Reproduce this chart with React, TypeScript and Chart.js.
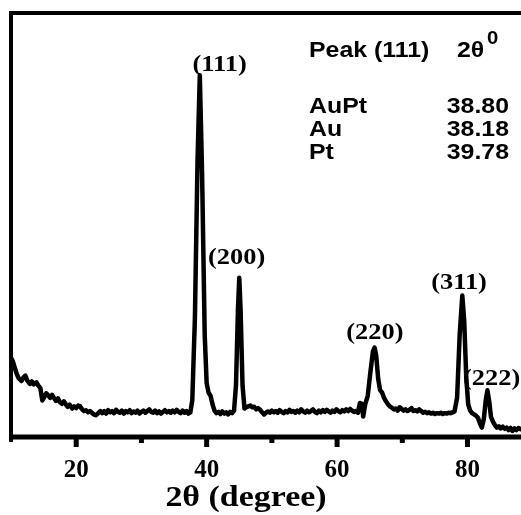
import React, { useEffect, useRef } from 'react';
import { Chart, registerables } from 'chart.js';

Chart.register(...registerables);

// ---- data ----
const twoTheta: number[] = [
  10.0, 10.3, 10.6, 10.9, 11.2, 11.6, 11.9, 12.2, 12.5, 12.9, 13.2, 13.5, 13.9, 14.2, 14.5, 14.8, 15.1, 15.4, 15.7, 16.0,
  16.3, 16.6, 16.9, 17.2, 17.5, 17.8, 18.1, 18.4, 18.7, 19.0, 19.4, 19.7, 20.0, 20.3, 20.6, 20.9, 21.2, 21.5, 21.8, 22.1,
  22.4, 22.7, 23.0, 23.3, 23.7, 24.0, 24.3, 24.6, 24.9, 25.2, 25.5, 25.8, 26.1, 26.4, 26.7, 27.0, 27.3, 27.6, 27.9, 28.2,
  28.5, 28.8, 29.1, 29.4, 29.7, 30.0, 30.3, 30.6, 30.9, 31.2, 31.5, 31.8, 32.1, 32.4, 32.7, 33.0, 33.3, 33.6, 33.9, 34.2,
  34.5, 34.8, 35.1, 35.4, 35.7, 36.0, 36.3, 36.6, 36.9, 37.2, 37.5, 37.8, 38.2, 38.6, 38.95, 39.3, 39.7, 40.0, 40.3, 40.6,
  40.9, 41.2, 41.5, 41.8, 42.1, 42.4, 42.7, 43.0, 43.3, 43.6, 43.9, 44.2, 44.5, 44.8, 45.0, 45.2, 45.5, 45.8, 46.1, 46.4,
  46.7, 47.0, 47.3, 47.6, 47.9, 48.2, 48.5, 48.8, 49.1, 49.4, 49.7, 50.0, 50.3, 50.6, 50.9, 51.2, 51.5, 51.8, 52.1, 52.4,
  52.7, 53.0, 53.3, 53.6, 53.9, 54.2, 54.5, 54.8, 55.1, 55.4, 55.7, 56.0, 56.3, 56.6, 56.9, 57.2, 57.5, 57.8, 58.1, 58.4,
  58.7, 59.0, 59.3, 59.6, 59.9, 60.2, 60.5, 60.8, 61.1, 61.4, 61.7, 62.0, 62.3, 62.6, 62.9, 63.2, 63.5, 63.8, 64.0, 64.3,
  64.7, 65.1, 65.5, 65.75, 66.0, 66.3, 66.6, 66.9, 67.2, 67.5, 67.8, 68.1, 68.4, 68.7, 69.0, 69.3, 69.6, 69.9, 70.2, 70.5,
  70.8, 71.1, 71.4, 71.7, 72.0, 72.3, 72.6, 72.9, 73.2, 73.5, 73.8, 74.1, 74.4, 74.7, 75.0, 75.3, 75.6, 75.9, 76.2, 76.5,
  76.8, 77.1, 77.4, 77.7, 78.0, 78.4, 78.8, 79.2, 79.5, 79.8, 80.1, 80.4, 80.7, 81.0, 81.3, 81.6, 81.9, 82.2, 82.5, 82.8,
  83.05, 83.3, 83.6, 83.9, 84.2, 84.5, 84.8, 85.1, 85.4, 85.7, 86.0, 86.3, 86.6, 86.9, 87.2, 87.5, 87.8, 88.1, 88.4,
];

const intensity: number[] = [
  18.5, 17.6, 16.0, 14.6, 13.6, 13.0, 13.8, 14.3, 13.1, 12.3, 12.9, 12.2, 12.7, 11.9, 11.3, 8.4, 9.2, 10.1, 9.6, 9.0,
  9.7, 9.0, 8.3, 8.9, 8.0, 7.6, 8.2, 7.5, 6.9, 7.4, 6.5, 7.0, 6.6, 7.2, 7.0, 6.3, 5.9, 6.1, 5.6, 5.9,
  5.5, 5.1, 4.9, 5.3, 5.9, 5.4, 5.9, 5.3, 6.1, 5.6, 5.9, 5.4, 6.2, 5.7, 5.5, 6.0, 5.3, 5.9, 5.6, 6.1,
  5.4, 5.8, 5.5, 6.0, 5.3, 5.7, 6.0, 5.5, 5.9, 6.3, 5.7, 5.5, 6.0, 5.4, 5.8, 5.3, 5.7, 6.1, 5.6, 5.9,
  5.5, 6.0, 5.6, 6.2, 5.7, 5.4, 6.0, 5.5, 5.9, 5.3, 5.6, 8.5, 28.0, 65.0, 85.3, 62.0, 24.0, 12.5, 10.2, 9.5,
  7.5, 6.0, 5.4, 5.7, 5.2, 5.8, 5.3, 5.6, 5.1, 5.7, 5.4, 6.0, 12.0, 30.0, 37.4, 30.0, 12.0, 6.5, 6.8, 7.0,
  7.2, 6.8, 6.9, 6.3, 6.6, 6.2, 5.6, 5.1, 5.5, 5.8, 5.5, 6.0, 5.6, 5.9, 5.5, 6.1, 5.7, 5.4, 5.9, 5.6,
  6.2, 5.7, 5.9, 5.5, 6.0, 5.6, 6.3, 5.8, 5.5, 6.0, 5.6, 5.9, 6.3, 5.7, 5.4, 6.0, 5.6, 6.1, 5.7, 6.2,
  5.8, 5.5, 6.0, 5.7, 6.3, 5.9, 5.6, 6.1, 5.8, 6.3, 5.9, 6.4, 6.0, 5.7, 5.9, 5.5, 7.8, 7.6, 4.6, 7.4,
  9.5, 15.0, 20.0, 20.9, 19.0, 13.5, 10.8, 10.3, 9.0, 8.2, 7.5, 7.0, 6.7, 6.3, 6.5, 6.0, 6.8, 6.4, 6.0, 6.3,
  5.9, 6.2, 6.6, 5.9, 6.1, 5.8, 6.3, 5.9, 5.5, 5.7, 5.4, 5.6, 5.3, 5.5, 5.2, 5.4, 5.3, 5.5, 5.2, 5.4,
  5.3, 5.5, 5.4, 5.6, 5.8, 9.0, 24.0, 33.2, 27.0, 14.0, 7.5, 6.0, 5.4, 5.1, 4.8, 4.3, 3.0, 2.0, 4.0, 8.5,
  10.8, 8.5, 4.5, 3.4, 2.6, 2.0, 2.3, 1.8, 2.2, 1.7, 2.0, 1.4, 1.9, 1.2, 1.8, 1.4, 1.9, 1.6, 1.8,
];

const xMin = 10;
const xMax = 88.2;
const yMin = 0;
const yMax = 100;
const xMajorTicks: number[] = [20, 40, 60, 80];
const xMinorTicks: number[] = [30, 50, 70];
const xTitle = '2\u03B8 (degree)';

const peakLabels: string[] = ['(111)', '(200)', '(220)', '(311)', '(222)'];
const peakLabelX: number[] = [42.0, 44.6, 65.8, 78.7, 83.7];
const peakLabelY: number[] = [87.7, 42.2, 24.4, 36.3, 13.5];

const tableTitle = 'Peak (111)';
const tableUnit = '2\u03B8';
const tableUnitSup = '0';
const tableSamples: string[] = ['AuPt', 'Au', 'Pt'];
const tableAngles: string[] = ['38.80', '38.18', '39.78'];

const SERIF = '"Liberation Serif", "Times New Roman", serif';
const SANS = '"Liberation Sans", Arial, sans-serif';

const decorPlugin = {
  id: 'decor',
  afterDraw(chart: any) {
    const { ctx, chartArea } = chart;
    const xs = chart.scales.x;
    const ys = chart.scales.y;
    const { left, right, top, bottom } = chartArea;
    ctx.save();
    ctx.strokeStyle = '#000';
    ctx.fillStyle = '#000';
    ctx.lineCap = 'butt';
    // frame
    ctx.lineWidth = 4;
    ctx.beginPath();
    ctx.moveTo(left, top - 2);
    ctx.lineTo(left, bottom + 6);
    ctx.stroke();
    ctx.beginPath();
    ctx.moveTo(left - 2, top);
    ctx.lineTo(right, top);
    ctx.stroke();
    ctx.lineWidth = 5;
    ctx.beginPath();
    ctx.moveTo(left - 2, bottom + 1);
    ctx.lineTo(right, bottom + 1);
    ctx.stroke();
    // ticks
    xMajorTicks.forEach((v) => {
      const px = xs.getPixelForValue(v);
      ctx.beginPath();
      ctx.moveTo(px, bottom + 1);
      ctx.lineTo(px, bottom + 11);
      ctx.stroke();
    });
    xMinorTicks.forEach((v) => {
      const px = xs.getPixelForValue(v);
      ctx.beginPath();
      ctx.moveTo(px, bottom + 1);
      ctx.lineTo(px, bottom + 7);
      ctx.stroke();
    });

    const drawText = (
      t: string, x: number, y: number, font: string, align: CanvasTextAlign, sx: number,
    ) => {
      ctx.save();
      ctx.translate(x, y);
      ctx.scale(sx, 1);
      ctx.font = font;
      ctx.textAlign = align;
      ctx.textBaseline = 'middle';
      ctx.fillText(t, 0, 0);
      ctx.restore();
    };

    // axis title
    drawText(xTitle, left + 235, 499, `bold 29px ${SERIF}`, 'center', 1.17);

    // peak labels
    peakLabels.forEach((t, i) => {
      drawText(t, xs.getPixelForValue(peakLabelX[i]), ys.getPixelForValue(peakLabelY[i]),
        `bold 24px ${SERIF}`, 'center', 1.1);
    });

    // inset table
    const sx = 1.13;
    const f22 = `bold 22px ${SANS}`;
    const col1 = left + 298;
    const colR = left + 498;
    drawText(tableTitle, col1, top + 38, f22, 'left', sx);
    drawText(tableUnit, left + 446, top + 38, f22, 'left', sx);
    drawText(tableUnitSup, left + 476, top + 26, `bold 18px ${SANS}`, 'left', sx);
    const rowY = [94, 117, 140];
    tableSamples.forEach((t, i) => {
      drawText(t, col1, top + rowY[i], f22, 'left', sx);
      drawText(tableAngles[i], colR, top + rowY[i], f22, 'right', sx);
    });
    ctx.restore();
  },
};

export default function App() {
  const ref = useRef<HTMLCanvasElement | null>(null);
  useEffect(() => {
    if (!ref.current) return;
    const chart = new Chart(ref.current, {
      type: 'line',
      data: {
        datasets: [
          {
            data: twoTheta.map((x, i) => ({ x, y: intensity[i] })),
            borderColor: '#000',
            borderWidth: 4.5,
            pointRadius: 0,
            tension: 0,
            fill: false,
            borderJoinStyle: 'round',
            borderCapStyle: 'round',
          },
        ],
      },
      options: {
        animation: false,
        responsive: false,
        devicePixelRatio: 1,
        layout: { padding: { left: 11, top: 13, right: 0, bottom: 17 } },
        plugins: { legend: { display: false }, tooltip: { enabled: false } },
        scales: {
          x: {
            type: 'linear',
            min: xMin,
            max: xMax,
            afterBuildTicks: (s: any) => {
              s.ticks = xMajorTicks.map((v) => ({ value: v }));
            },
            grid: { display: false, drawTicks: true, tickLength: 8 },
            border: { display: false },
            ticks: {
              color: '#000',
              padding: 12,
              maxRotation: 0,
              autoSkip: false,
              font: { family: SERIF, size: 25, weight: 'bold' },
            },
            title: { display: false, text: xTitle },
          },
          y: { type: 'linear', display: false, min: yMin, max: yMax },
        },
      },
      plugins: [decorPlugin],
    } as any);
    return () => chart.destroy();
  }, []);
  return (
    <div style={{ position: 'fixed', left: 0, top: 0, width: 521, height: 515, overflow: 'hidden', background: '#fff' }}>
      <canvas ref={ref} width={521} height={515} style={{ display: 'block' }} />
    </div>
  );
}
